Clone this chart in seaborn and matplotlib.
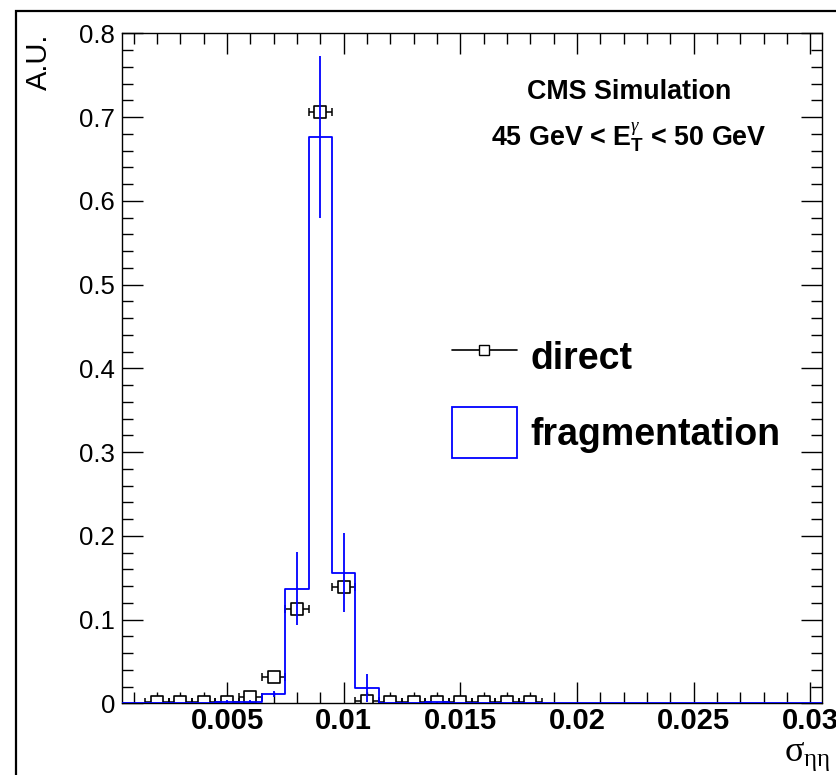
import numpy as np
import pandas as pd
import matplotlib
matplotlib.use("Agg")
import matplotlib.pyplot as plt
import seaborn as sns
from matplotlib.lines import Line2D
from matplotlib.patches import Patch, Rectangle
from matplotlib.ticker import MultipleLocator

# ---------------- data ----------------
bin_width = 0.001
bin_centers = [0.001, 0.002, 0.003, 0.004, 0.005, 0.006, 0.007, 0.008, 0.009, 0.010,
               0.011, 0.012, 0.013, 0.014, 0.015, 0.016, 0.017, 0.018, 0.019, 0.020,
               0.021, 0.022, 0.023, 0.024, 0.025, 0.026, 0.027, 0.028, 0.029, 0.030]
frag_values = [0.0, 0.0, 0.0, 0.0, 0.002, 0.002, 0.011, 0.137, 0.676, 0.156,
               0.018, 0.0, 0.0, 0.001, 0.0, 0.0, 0.0, 0.0, 0.0, 0.0,
               0.0, 0.0, 0.0, 0.0, 0.0, 0.0, 0.0, 0.0, 0.0, 0.0]
frag_errors = [0.0, 0.0, 0.0, 0.0, 0.002, 0.002, 0.004, 0.044, 0.097, 0.047,
               0.017, 0.0, 0.0, 0.001, 0.0, 0.0, 0.0, 0.0, 0.0, 0.0,
               0.0, 0.0, 0.0, 0.0, 0.0, 0.0, 0.0, 0.0, 0.0, 0.0]

direct_x = [0.002, 0.003, 0.004, 0.005, 0.006, 0.007, 0.008, 0.009, 0.010,
            0.011, 0.012, 0.013, 0.014, 0.015, 0.016, 0.017, 0.018]
direct_values = [0.0015, 0.0015, 0.0015, 0.0015, 0.007, 0.032, 0.113, 0.706, 0.139,
                 0.003, 0.0015, 0.0015, 0.0015, 0.0015, 0.0015, 0.0015, 0.0015]

x_ticks = [0.005, 0.010, 0.015, 0.020, 0.025, 0.030]
x_tick_labels = ["0.005", "0.01", "0.015", "0.02", "0.025", "0.03"]
y_ticks = [0.0, 0.1, 0.2, 0.3, 0.4, 0.5, 0.6, 0.7, 0.8]
y_tick_labels = ["0", "0.1", "0.2", "0.3", "0.4", "0.5", "0.6", "0.7", "0.8"]

# ---------------- style ----------------
sns.set_theme(style="ticks")
plt.rcParams["font.family"] = ["Liberation Sans", "DejaVu Sans"]
plt.rcParams["mathtext.fontset"] = "custom"
plt.rcParams["mathtext.rm"] = "Liberation Serif"
plt.rcParams["mathtext.it"] = "Liberation Serif:italic"
plt.rcParams["mathtext.bf"] = "Liberation Sans:bold"
plt.rcParams["text.color"] = "black"
plt.rcParams["axes.labelcolor"] = "black"
plt.rcParams["xtick.color"] = "black"
plt.rcParams["ytick.color"] = "black"
plt.rcParams["axes.edgecolor"] = "black"

W, H = 836, 775
fig = plt.figure(figsize=(W / 100, H / 100), dpi=100)
fig.patch.set_facecolor("white")
ax_l, ax_r, ax_t, ax_b = 122, 822, 33.3, 703.3
ax = fig.add_axes([ax_l / W, 1 - ax_b / H, (ax_r - ax_l) / W, (ax_b - ax_t) / H])
ax.set_facecolor("white")

# ---------------- direct (points) ----------------
df_dir = pd.DataFrame({"x": direct_x, "y": direct_values})
ax.errorbar(df_dir["x"], df_dir["y"], xerr=bin_width / 2, fmt="none",
            ecolor="black", elinewidth=1.1, capsize=3, capthick=1.1, zorder=2)
sns.scatterplot(data=df_dir, x="x", y="y", marker="s", s=68, color="white",
                edgecolor="black", linewidth=1.2, ax=ax, zorder=2.5, legend=False)

# ---------------- fragmentation (histogram) ----------------
df_frag = pd.DataFrame({"x": bin_centers, "w": frag_values, "e": frag_errors})
edges = [c - bin_width / 2 for c in bin_centers] + [bin_centers[-1] + bin_width / 2]
sns.histplot(data=df_frag, x="x", weights="w", bins=edges, element="step",
             fill=False, color="blue", linewidth=1.3, ax=ax, zorder=3)
nz = df_frag[df_frag["e"] > 0]
ax.errorbar(nz["x"], nz["w"], yerr=nz["e"], fmt="none", ecolor="blue",
            elinewidth=1.3, zorder=3)

# ---------------- axes ----------------
ax.set_xlim(0.0005, 0.0305)
ax.set_ylim(0, 0.8)
ax.set_xticks(x_ticks)
ax.set_xticklabels(x_tick_labels, fontsize=21, fontweight="bold")
ax.set_yticks(y_ticks)
ax.set_yticklabels(y_tick_labels, fontsize=18.5)
ax.xaxis.set_minor_locator(MultipleLocator(0.001))
ax.yaxis.set_minor_locator(MultipleLocator(0.02))
ax.tick_params(which="both", direction="in", top=True, right=True, colors="black",
               width=1.0)
ax.tick_params(which="major", length=15)
ax.tick_params(which="minor", length=7.8)
ax.tick_params(axis="x", which="major", pad=2.5)
ax.tick_params(axis="y", which="major", pad=5)
for s in ax.spines.values():
    s.set_color("black")
    s.set_linewidth(1.0)

ax.set_xlabel(r"$\mathrm{\sigma}_{\mathrm{\eta\eta}}$", fontsize=26, loc="right")
ax.xaxis.set_label_coords(1.012, -0.052)
ax.xaxis.label.set_verticalalignment("top")
ax.set_ylabel("A.U.", fontsize=21, loc="top")
ax.yaxis.set_label_coords(-0.099, 1.0)

# ---------------- texts ----------------
ax.text(0.724, 0.913, "CMS Simulation", transform=ax.transAxes, ha="center",
        va="center", fontsize=19.4, fontweight="bold")
ax.text(0.724, 0.845, r"45 GeV < $\mathbf{E}_{\mathbf{T}}^{\gamma}$ < 50 GeV",
        transform=ax.transAxes, ha="center", va="center", fontsize=19.4,
        fontweight="bold")

# ---------------- legend ----------------
handles = [
    Line2D([], [], color="black", lw=1.2, marker="s", mfc="white", mec="black", ms=7),
    Patch(facecolor="white", edgecolor="blue", lw=1.3),
]
ax.legend(handles, ["direct", "fragmentation"], loc="upper left",
          bbox_to_anchor=(452 / W, 1 - 331.4 / H), bbox_transform=fig.transFigure,
          frameon=False, prop={"weight": "bold", "size": 27},
          handlelength=1.73, handleheight=1.69, handletextpad=0.37,
          labelspacing=0.68, borderpad=0, borderaxespad=0)

# canvas frame
fig.add_artist(Rectangle((15.7 / W, -0.1), 1.2, (H - 10.7) / H + 0.1,
                         transform=fig.transFigure, fill=False,
                         edgecolor="black", lw=1.6))

fig.savefig("out.png", dpi=100)
